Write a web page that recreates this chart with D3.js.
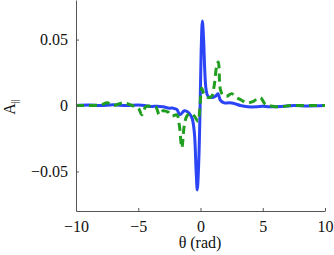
<!DOCTYPE html>
<html><head><meta charset="utf-8">
<script src="https://cdn.jsdelivr.net/npm/d3@7"></script>
<style>body{margin:0;background:#fff}svg{display:block}
text{font-family:"Liberation Serif","Times New Roman",Times,serif}</style>
</head><body>
<svg id="c" width="334" height="255"></svg>
<script>
const xTicks = [-10, -5, 0, 5, 10];
const xTickLabels = ["\u221210", "\u22125", "0", "5", "10"];
const yTicks = [-0.05, 0, 0.05];
const yTickLabels = ["\u22120.05", "0", "0.05"];

const blueTheta = [-10,-9,-8,-7,-6,-5,-4.5,-4,-3.5,-3,-2.5,-2.2,-1.9,-1.65,-1.3,-1.0,-0.7,-0.5,-0.35,-0.26,-0.15,-0.05,0.05,0.15,0.25,0.35,0.45,0.6,0.9,1.2,1.4,1.6,1.9,2.3,2.7,3.2,3.8,4.5,5.0,5.5,6.5,7.5,8.5,10];
const blueVal = [0,0.0003,0,0.0005,0,0.0003,0,-0.0008,-0.0005,-0.001,-0.002,-0.002,-0.003,-0.007,-0.004,-0.005,-0.009,-0.02,-0.05,-0.064,-0.045,-0.01,0.04,0.064,0.05,0.025,0.012,0.007,0.006,0.007,0.009,0.004,0.002,0.002,0.0015,0,-0.001,-0.001,-0.0005,-0.001,-0.0008,0,-0.0003,0];

const greenTheta = [-10,-9,-8,-7.5,-7,-6.2,-5.5,-5,-4.7,-4.4,-4,-3.6,-3.3,-3.0,-2.6,-2.3,-1.9,-1.7,-1.5,-1.3,-1.1,-0.8,-0.5,-0.2,-0.05,0.1,0.3,0.6,0.9,1.1,1.3,1.43,1.6,1.8,2.1,2.5,2.9,3.3,3.7,4.2,4.8,5.2,5.8,6.5,7.2,8,9,10];
const greenVal = [0,0,0.0005,0.002,0,0.002,0,-0.002,-0.007,-0.001,-0.0005,-0.001,-0.007,-0.004,-0.005,-0.008,-0.007,-0.015,-0.032,-0.015,-0.008,-0.006,-0.008,-0.012,-0.002,0.013,0.008,0.006,0.007,0.015,0.03,0.033,0.012,0.008,0.007,0.009,0.006,0.004,0.002,0.003,0.006,0.001,-0.0005,-0.001,0,0,0,0];

const svg = d3.select("#c");
const L = 76, T = 0, W = 249, H = 211;
const x = d3.scaleLinear().domain([-10, 10]).range([L, L + W]);
const y = d3.scaleLinear().domain([-0.08, 0.08]).range([T + H, T]);
const axisColor = "#555";

const line = d3.line().x(d => x(d[0])).y(d => y(d[1])).curve(d3.curveCatmullRom.alpha(0.5));

svg.append("path").datum(blueTheta.map((t, i) => [t, blueVal[i]]))
  .attr("d", line).attr("fill", "none").attr("stroke", "#2a44f6").attr("stroke-width", 3)
  .attr("stroke-linejoin", "round");
svg.append("path").datum(greenTheta.map((t, i) => [t, greenVal[i]]))
  .attr("d", line).attr("fill", "none").attr("stroke", "#1f9e1f").attr("stroke-width", 3)
  .attr("stroke-dasharray", "8,5");

const xa = svg.append("g").attr("transform", `translate(0,${T + H})`)
  .call(d3.axisBottom(x).tickValues(xTicks).tickSizeInner(-3).tickSizeOuter(0)
    .tickPadding(10).tickFormat((d, i) => xTickLabels[i]));
const ya = svg.append("g").attr("transform", `translate(${L},0)`)
  .call(d3.axisLeft(y).tickValues(yTicks).tickSizeInner(-3).tickSizeOuter(0)
    .tickPadding(8).tickFormat((d, i) => yTickLabels[i]));
[xa, ya].forEach(g => {
  g.attr("font-family", null);
  g.selectAll("path,line").attr("stroke", axisColor);
  g.selectAll("text").attr("font-size", 16).attr("fill", "#111");
});

svg.append("text").attr("x", 200).attr("y", 248).attr("text-anchor", "middle")
  .attr("font-size", 16).attr("fill", "#111").text("\u03b8 (rad)");

const yl = svg.append("text").attr("transform", "translate(15,107) rotate(-90)")
  .attr("text-anchor", "middle").attr("font-size", 16).attr("fill", "#111");
yl.append("tspan").text("A");
yl.append("tspan").attr("font-size", 10).attr("dy", 3).text("||");
</script>
</body></html>
